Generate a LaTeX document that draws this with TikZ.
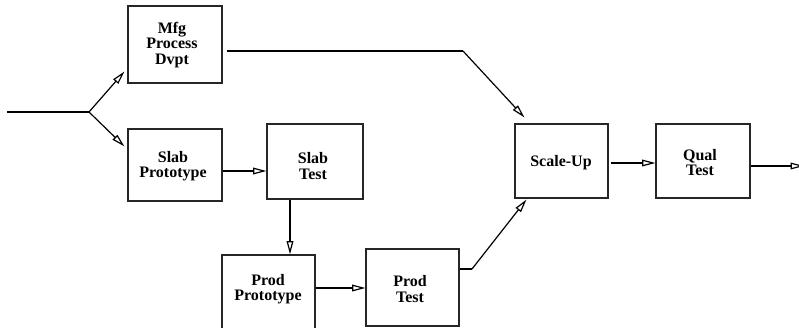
\documentclass[tikz,border=0pt]{standalone}
\usepackage{fontspec}
\setmainfont{Liberation Serif}
\usetikzlibrary{arrows.meta}
\begin{document}
\begin{tikzpicture}[x=0.75pt,y=-0.75pt,
  box/.style={draw=black!85,line width=0.8pt,rectangle,inner sep=0pt},
  lbl/.style={align=center,font=\bfseries\fontsize{12}{11.6}\selectfont,inner sep=0pt},
  conn/.style={line width=0.9pt},
  arr/.style={conn,-{Triangle[open,length=10pt,width=5pt]}}]
\clip (0,0) rectangle (799,328);
\useasboundingbox (0,0) rectangle (799,328);
% boxes
\node[box,minimum width=70.5pt,minimum height=57.75pt] (mfg) at (175,44.5) {};
\node[box,minimum width=70.5pt,minimum height=54pt] (sp) at (175,165) {};
\node[box,minimum width=72pt,minimum height=56.25pt] (st) at (315,161.5) {};
\node[box,minimum width=69.75pt,minimum height=60pt] (pp) at (268.5,295) {};
\node[box,minimum width=69.75pt,minimum height=57.75pt] (pt) at (412.5,287.5) {};
\node[box,minimum width=69.75pt,minimum height=55.5pt] (su) at (561.5,161) {};
\node[box,minimum width=70.5pt,minimum height=55.5pt] (qt) at (703,161) {};
% labels
\node[lbl] (mfgt) at (172,45) {Mfg\\Process\\Dvpt};
\node[lbl] (spt) at (173,166) {Slab\\Prototype};
\node[lbl] (stt) at (313,166) {Slab\\Test};
\node[lbl] (ppt) at (268,289) {Prod\\Prototype};
\node[lbl] (ptt) at (410,289) {Prod\\Test};
\node[lbl] (sut) at (561,163) {Scale-Up};
\node[lbl] (qtt) at (700,162.5) {Qual\\Test};
% coordinates
\coordinate (in) at (7,112);
\coordinate (fork) at (89,112);
\coordinate (c1) at (463,51);
\coordinate (c2) at (472,269);
\coordinate (out) at (804,166);
% connectors
\draw[conn] (in) -- (fork);
\draw[arr] (fork) -- ([shift={(-3,-12)}]mfg.south west);
\draw[arr] (fork) -- ([shift={(-3,18)}]sp.north west);
\draw[conn] ([shift={(4,6.5)}]mfg.east) -- (c1);
\draw[arr] (c1) -- ([shift={(10,-6)}]su.north west);
\draw[arr] ([shift={(0,6)}]sp.east) -- ([shift={(0,9.5)}]st.west);
\draw[arr] ([shift={(-25,0)}]st.south) -- ([shift={(21.5,0)}]pp.north);
\draw[arr] ([shift={(0,-7)}]pp.east) -- ([shift={(0,0.5)}]pt.west);
\draw[conn] ([shift={(0,-18.5)}]pt.east) -- (c2);
\draw[arr] (c2) -- ([shift={(12,1)}]su.south west);
\draw[arr] ([shift={(2,2)}]su.east) -- ([shift={(0,2)}]qt.west);
\draw[arr] ([shift={(0,5)}]qt.east) -- (out);
\end{tikzpicture}
\end{document}
